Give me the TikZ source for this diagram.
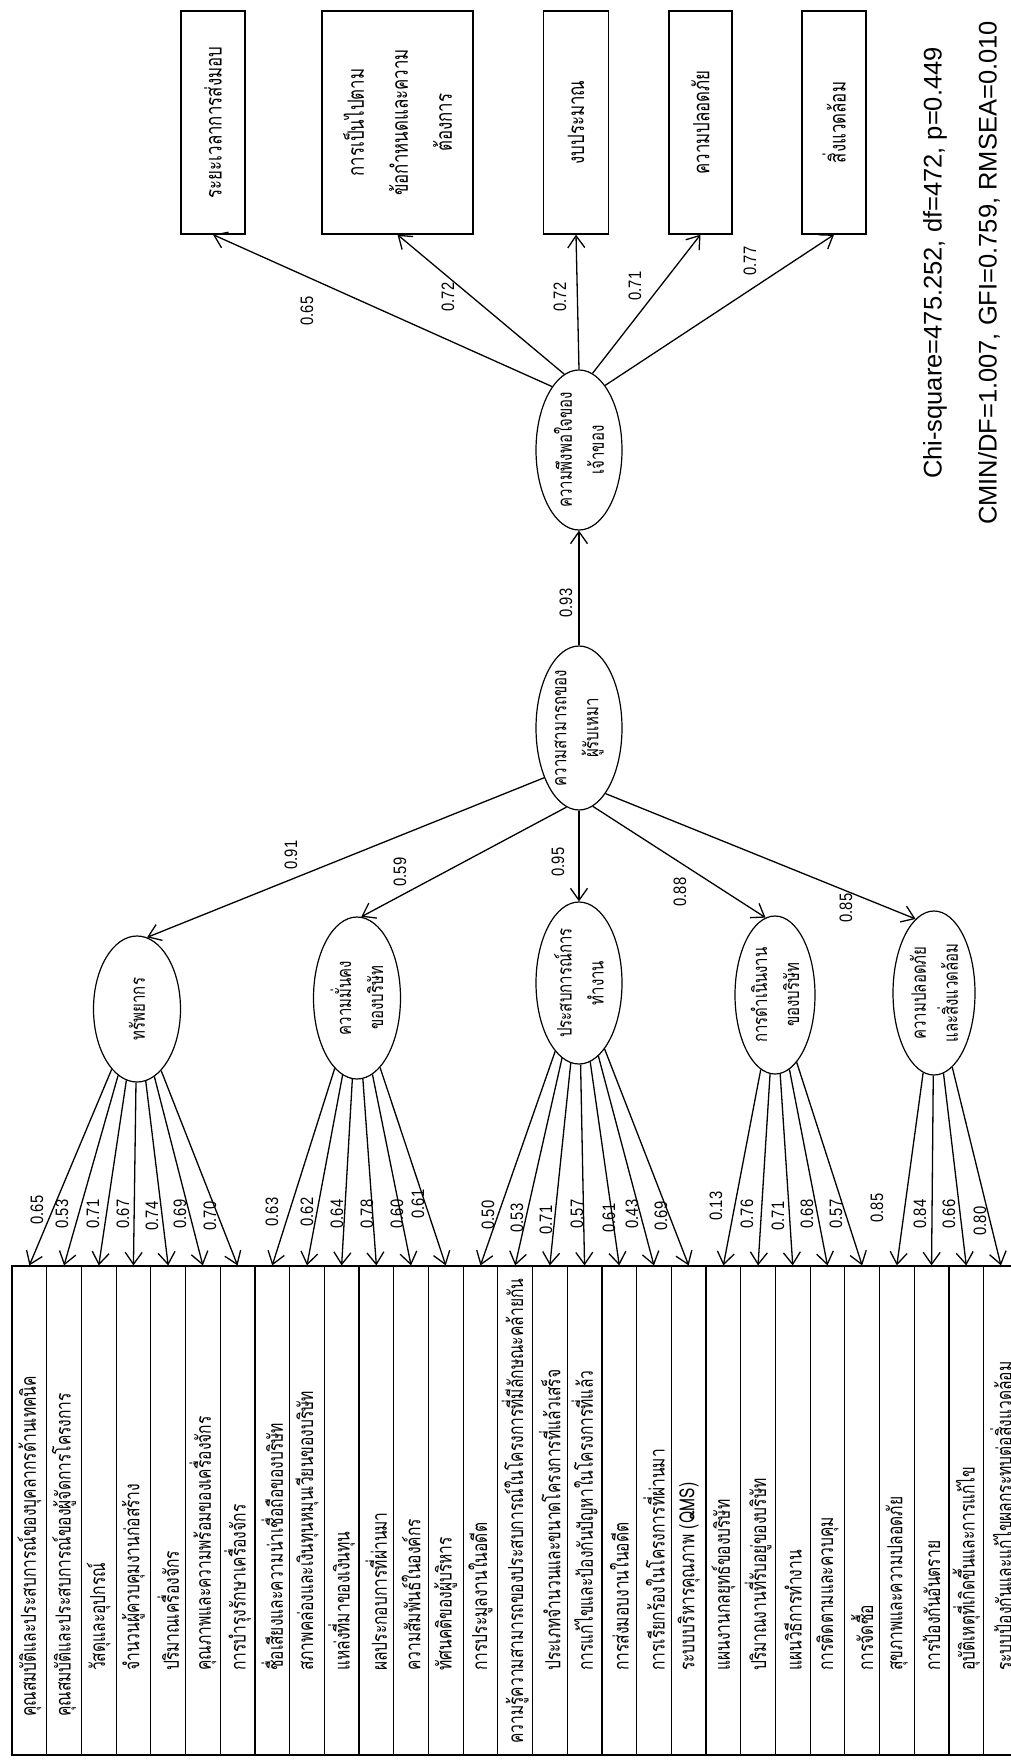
\documentclass[tikz,border=0pt]{standalone}
\usepackage{fontspec}
\setmainfont{Liberation Sans}
\newfontfamily\thaifont[Script=Thai,FakeStretch=0.75]{Loma}
\newfontfamily\numfont[FakeStretch=0.82]{Liberation Sans}
\usetikzlibrary{shapes.geometric,arrows.meta}

\begin{document}
\begin{tikzpicture}[x=1pt,y=-1pt,
  latent/.style={ellipse, draw, line width=1.2pt, inner sep=0pt},
  obs/.style={rectangle, draw, line width=1.3pt, inner sep=0pt},
  indbox/.style={rectangle, draw, line width=1.2pt, inner sep=0pt,
    minimum width=34.7pt, minimum height=489pt},
  thlabel/.style={rotate=90, inner sep=0pt, align=center},
  indtext/.style={thlabel, anchor=west, font=\thaifont\fontsize{20.8}{24}\selectfont},
  boxtext/.style={thlabel, font=\thaifont\fontsize{22.5}{44}\selectfont},
  lattext/.style={thlabel, font=\thaifont\fontsize{20}{32}\selectfont},
  load/.style={rotate=90, inner sep=0pt, font=\numfont\fontsize{18}{20}\selectfont},
  fitstat/.style={rotate=90, inner sep=0pt, font=\fontsize{25.5}{30}\selectfont},
  arr/.style={-{Straight Barb[length=12pt,width=17pt]}, line width=1.3pt}]

\useasboundingbox (0,0) rectangle (1011,1760);
\clip (0,0) rectangle (1011,1760);
\fill[white] (0,0) rectangle (1011,1760);

% outcome indicators (top row)
\node[obs, minimum width=64pt, minimum height=223pt] (B1) at (213,122.5) {};
\node[obs, minimum width=151pt, minimum height=223pt] (B2) at (397.5,122.5) {};
\node[obs, minimum width=65pt, minimum height=223pt] (B3) at (576,122.5) {};
\node[obs, minimum width=63pt, minimum height=223pt] (B4) at (700.5,122.5) {};
\node[obs, minimum width=64pt, minimum height=223pt] (B5) at (834,122.5) {};
\node[boxtext] (tB1) at (B1) {ระยะเวลาการส่งมอบ};
\node[boxtext] (tB2) at (B2) {การเป็นไปตาม\\ข้อกำหนดและความ\\ต้องการ};
\node[boxtext] (tB3) at (B3) {งบประมาณ};
\node[boxtext] (tB4) at (B4) {ความปลอดภัย};
\node[boxtext] (tB5) at (B5) {สิ่งแวดล้อม};

% latent variables
\node[latent, minimum width=86pt, minimum height=160pt] (S) at (579,450) {};
\node[latent, minimum width=86pt, minimum height=164pt] (C) at (579,728) {};
\node[latent, minimum width=87pt, minimum height=146pt] (L1) at (137,1009) {};
\node[latent, minimum width=87pt, minimum height=162pt] (L2) at (357,998) {};
\node[latent, minimum width=86pt, minimum height=162pt] (L3) at (579,983) {};
\node[latent, minimum width=80pt, minimum height=158pt] (L4) at (775,995) {};
\node[latent, minimum width=82pt, minimum height=164pt] (L5) at (934,993) {};
\node[lattext] (tS) at (S) {ความพึงพอใจของ\\เจ้าของ};
\node[lattext] (tC) at (C) {ความสามารถของ\\ผู้รับเหมา};
\node[lattext] (tL1) at (L1) {ทรัพยากร};
\node[lattext] (tL2) at (L2) {ความมั่นคง\\ของบริษัท};
\node[lattext] (tL3) at (L3) {ประสบการณ์การ\\ทำงาน};
\node[lattext] (tL4) at (L4) {การดำเนินงาน\\ของบริษัท};
\node[lattext] (tL5) at (L5) {ความปลอดภัย\\และสิ่งแวดล้อม};

% structural paths
\draw[arr] (S.113) -- (B1.south);
\draw[arr] (S.101) -- (B2.south);
\draw[arr] (S.north) -- (B3.south);
\draw[arr] (S.80) -- (B4.south);
\draw[arr] (S.68) -- (B5.south);
\draw[arr] (C.north) -- (S.south);
\draw[arr] (C.235) -- (L1.82);
\draw[arr] (C.261) -- (L2.87);
\draw[arr] (C.south) -- (L3.north);
\draw[arr] (C.280) -- (L4.97);
\draw[arr] (C.292) -- (L5.104);

\node[load] (pB1) at (307,311) {0.65};
\node[load] (pB2) at (448,297) {0.72};
\node[load] (pB3) at (560,297) {0.72};
\node[load] (pB4) at (635,286) {0.71};
\node[load] (pB5) at (750,261) {0.77};
\node[load] (pS) at (566,603) {0.93};
\node[load] (pL1) at (291,855) {0.91};
\node[load] (pL2) at (400,872) {0.59};
\node[load] (pL3) at (558,862) {0.95};
\node[load] (pL4) at (680,892) {0.88};
\node[load] (pL5) at (846,908) {0.85};

% measurement part: observed indicators of the five factors
\foreach \k/\lat/\ld/\lx/\ly/\ty/\txt in {
 0/L1/0.65/37/1210/1717/คุณสมบัติและประสบการณ์ของบุคลากรด้านเทคนิค,
 1/L1/0.53/62/1214/1717/คุณสมบัติและประสบการณ์ของผู้จัดการโครงการ,
 2/L1/0.71/93/1214/1671/วัสดุและอุปกรณ์,
 3/L1/0.67/123/1214/1671/จำนวนผู้ควบคุมงานก่อสร้าง,
 4/L1/0.74/152/1216/1671/ปริมาณเครื่องจักร,
 5/L1/0.69/180/1214/1671/คุณภาพและความพร้อมของเครื่องจักร,
 6/L1/0.70/210/1216/1671/การบำรุงรักษาเครื่องจักร,
 7/L2/0.63/272/1212/1671/ชื่อเสียงและความน่าเชื่อถือของบริษัท,
 8/L2/0.62/307/1212/1671/สภาพคล่องและเงินทุนหมุนเวียนของบริษัท,
 9/L2/0.64/337/1214/1671/แหล่งที่มาของเงินทุน,
 10/L2/0.78/367/1214/1671/ผลประกอบการที่ผ่านมา,
 11/L2/0.60/397/1214/1671/ความสัมพันธ์ในองค์กร,
 12/L2/0.61/418/1204/1671/ทัศนคติของผู้บริหาร,
 13/L3/0.50/488/1215/1671/การประมูลงานในอดีต,
 14/L3/0.53/517/1218/1744/ความรู้ความสามารถของประสบการณ์ในโครงการที่มีลักษณะคล้ายกัน,
 15/L3/0.71/546/1220/1671/ประเภทจำนวนและขนาดโครงการที่แล้วเสร็จ,
 16/L3/0.57/577/1214/1671/การแก้ไขและป้องกันปัญหาในโครงการที่แล้ว,
 17/L3/0.61/609/1218/1671/การส่งมอบงานในอดีต,
 18/L3/0.43/632/1214/1671/การเรียกร้องในโครงการที่ผ่านมา,
 19/L3/0.69/661/1216/1671/ระบบบริหารคุณภาพ (QMS),
 20/L4/0.13/716/1206/1671/แผนงานกลยุทธ์ของบริษัท,
 21/L4/0.76/747/1214/1671/ปริมาณงานที่รับอยู่ของบริษัท,
 22/L4/0.71/778/1216/1671/แผนวิธีการทำงาน,
 23/L4/0.68/807/1214/1671/การติดตามและควบคุม,
 24/L4/0.57/836/1214/1671/การจัดซื้อ,
 25/L5/0.85/877/1208/1671/สุขภาพและความปลอดภัย,
 26/L5/0.84/920/1214/1671/การป้องกันอันตราย,
 27/L5/0.66/949/1214/1671/อุบัติเหตุที่เกิดขึ้นและการแก้ไข,
 28/L5/0.80/980/1221/1671/ระบบป้องกันและแก้ไขผลกระทบต่อสิ่งแวดล้อม}{
  \pgfmathsetmacro\cx{12+34.7*(\k+0.5)}
  \node[indbox] (i\k) at (\cx,1510.5) {};
  \node[indtext] (t\k) at (\cx,\ty) {\txt};
  \draw[arr] (\lat) -- (i\k.north);
  \node[load] (n\k) at (\lx,\ly) {\ld};
}

% model fit
\node[fitstat] (chi) at (935,263) {Chi-square=475.252, df=472, p=0.449};
\node[fitstat] (cmin) at (989,273) {CMIN/DF=1.007, GFI=0.759, RMSEA=0.010};
\end{tikzpicture}
\end{document}
